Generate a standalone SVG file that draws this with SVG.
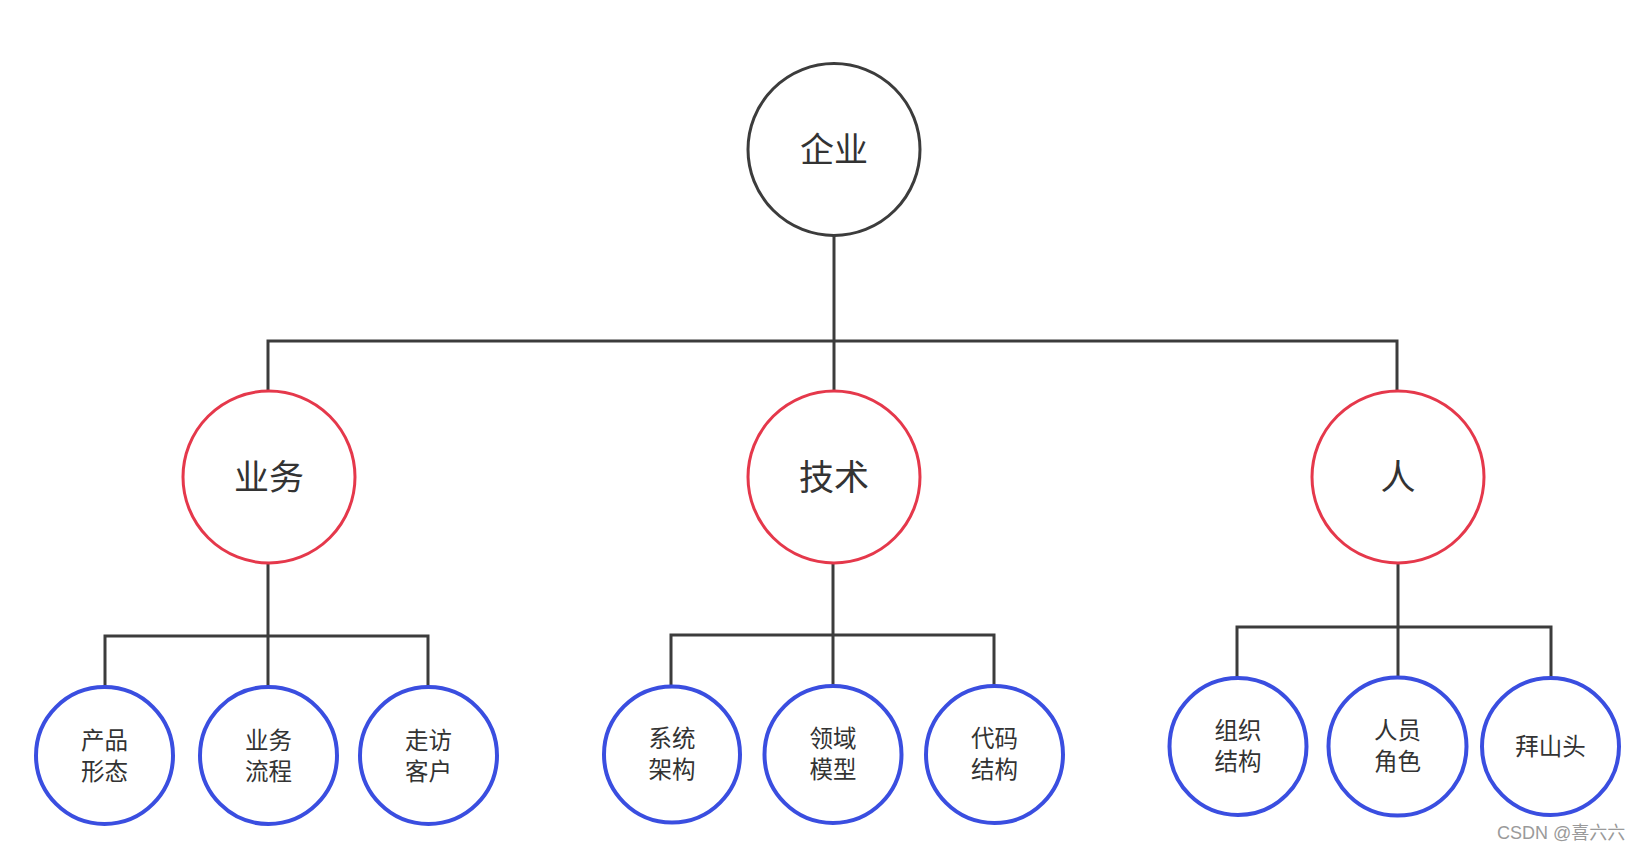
<svg xmlns="http://www.w3.org/2000/svg" width="1644" height="852" viewBox="0 0 1644 852">
<style>
.bg{fill:#ffffff}
.link{fill:none;stroke:#3c3c3c;stroke-width:3;stroke-linejoin:miter}
.root{fill:#ffffff;stroke:#3c3c3c;stroke-width:3}
.mid{fill:#ffffff;stroke:#e5384b;stroke-width:3}
.leaf{fill:#ffffff;stroke:#3a4ee0;stroke-width:4}
text{font-family:"Noto Sans CJK SC","Noto Sans",sans-serif;fill:#333333;text-anchor:middle;dominant-baseline:central}
.t1{font-size:34px}
.t2{font-size:35px}
.t3{font-size:23.5px}
.wm{font-family:"Liberation Sans","Noto Sans CJK SC",sans-serif;font-size:18px;fill:#9a9a9a;text-anchor:start}
</style>
<rect class="bg" x="0" y="0" width="1644" height="852"/>
<g id="connectors">
<path class="link" d="M834 235 V341"/>
<path class="link" d="M268 391 V341 H1397 V391"/>
<path class="link" d="M834 341 V391"/>
<path class="link" d="M268 563 V687"/>
<path class="link" d="M105 687 V636 H428 V687"/>
<path class="link" d="M833 563 V686"/>
<path class="link" d="M671 686 V635 H994 V686"/>
<path class="link" d="M1398 563 V678"/>
<path class="link" d="M1237 678 V627 H1551 V678"/>
</g>
<g id="n-qiye"><circle class="root" cx="834" cy="149.5" r="86"/><text class="t1" x="834" y="147">企业</text></g>
<g id="n-yewu"><circle class="mid" cx="269" cy="477" r="86"/><text class="t2" x="269" y="474">业务</text></g>
<g id="n-jishu"><circle class="mid" cx="834" cy="477" r="86"/><text class="t2" x="834" y="474">技术</text></g>
<g id="n-ren"><circle class="mid" cx="1398" cy="477" r="86"/><text class="t2" x="1398" y="474">人</text></g>
<g id="n-chanpin"><circle class="leaf" cx="104.5" cy="755.5" r="68.5"/><text class="t3" x="104.5" y="739">产品</text><text class="t3" x="104.5" y="770">形态</text></g>
<g id="n-liucheng"><circle class="leaf" cx="268.5" cy="755.5" r="68.5"/><text class="t3" x="268.5" y="739">业务</text><text class="t3" x="268.5" y="770">流程</text></g>
<g id="n-zoufang"><circle class="leaf" cx="428.5" cy="755.5" r="68.5"/><text class="t3" x="428.5" y="739">走访</text><text class="t3" x="428.5" y="770">客户</text></g>
<g id="n-xitong"><circle class="leaf" cx="672" cy="754.5" r="68"/><text class="t3" x="672" y="737">系统</text><text class="t3" x="672" y="768">架构</text></g>
<g id="n-lingyu"><circle class="leaf" cx="833" cy="754.5" r="68.5"/><text class="t3" x="833" y="737">领域</text><text class="t3" x="833" y="768">模型</text></g>
<g id="n-daima"><circle class="leaf" cx="994.5" cy="754.5" r="68.5"/><text class="t3" x="994.5" y="737">代码</text><text class="t3" x="994.5" y="768">结构</text></g>
<g id="n-zuzhi"><circle class="leaf" cx="1238" cy="746.5" r="68.5"/><text class="t3" x="1238" y="729">组织</text><text class="t3" x="1238" y="760">结构</text></g>
<g id="n-renyuan"><circle class="leaf" cx="1397.5" cy="746.5" r="69"/><text class="t3" x="1397.5" y="729">人员</text><text class="t3" x="1397.5" y="760">角色</text></g>
<g id="n-baishan"><circle class="leaf" cx="1550.5" cy="746.5" r="68.5"/><text class="t3" x="1550.5" y="745">拜山头</text></g>
<text class="wm" x="1497" y="833">CSDN @喜六六</text>
</svg>
